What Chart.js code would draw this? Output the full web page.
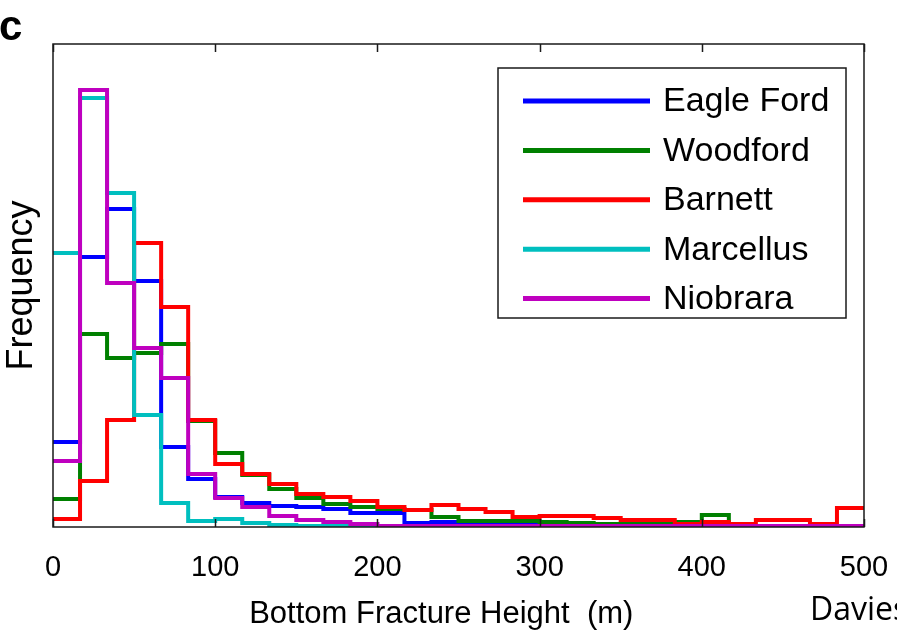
<!DOCTYPE html>
<html>
<head>
<meta charset="utf-8">
<script src="https://cdn.jsdelivr.net/npm/chart.js@4/dist/chart.umd.min.js"></script>
<style>
  html, body { margin: 0; padding: 0; background: #ffffff; }
  #wrap { width: 897px; height: 641px; position: relative; overflow: hidden; }
</style>
</head>
<body>
<div id="wrap"><canvas id="c" width="897" height="641"></canvas></div>
<script>
// Bin edges (m) of the histograms
const binEdges = [0, 16.67, 33.33, 50, 66.67, 83.33, 100, 116.67, 133.33, 150,
  166.67, 183.33, 200, 216.67, 233.33, 250, 266.67, 283.33, 300, 316.67,
  333.33, 350, 366.67, 383.33, 400, 416.67, 433.33, 450, 466.67, 483.33, 500];
const xTicks = [0, 100, 200, 300, 400, 500];
const seriesNames = ["Eagle Ford", "Woodford", "Barnett", "Marcellus", "Niobrara"];

// Frequency per bin (relative)
const eagleFord = [85, 270, 318, 246, 80, 48, 30, 24, 21, 20, 18, 14, 14, 4, 5, 4, 5, 2, 2, 2, 1, 1, 1, 1, 1, 1, 1, 1, 1, 1];
const woodford  = [28, 193, 169, 174, 183, 106, 74, 52, 38, 29, 23, 20, 18, 17, 10, 6, 6, 6, 5, 4, 3, 3, 3, 5, 12, 1, 1, 1, 1, 1];
const barnett   = [8, 46, 107, 284, 220, 107, 63, 53, 43, 33, 30, 26, 20, 17, 22, 18, 15, 10, 11, 11, 9, 7, 7, 3, 5, 3, 7, 7, 3, 19];
const marcellus = [274, 429, 334, 112, 24, 6, 8, 4, 2, 1, 1, 1, 0, 0, 0, 0, 0, 0, 0, 0, 0, 0, 0, 0, 0, 0, 0, 0, 0, 0];
const niobrara  = [66, 437, 244, 179, 149, 53, 29, 20, 11, 7, 5, 3, 1, 1, 1, 1, 1, 1, 1, 1, 1, 1, 1, 1, 1, 1, 1, 1, 1, 1];

const seriesValues = [eagleFord, woodford, barnett, marcellus, niobrara];
const seriesColors = ["#0000ff", "#008000", "#ff0000", "#00bfbf", "#bf00bf"];

function stepPoints(vals) {
  return binEdges.map((x, i) => ({ x: x, y: vals[Math.min(i, vals.length - 1)] }));
}

const datasets = seriesNames.map((name, i) => ({
  label: name,
  data: stepPoints(seriesValues[i]),
  borderColor: seriesColors[i],
  backgroundColor: seriesColors[i],
  borderWidth: 4,
  pointRadius: 0,
  stepped: true,
  fill: false,
  order: seriesNames.length - i,
  borderJoinStyle: 'miter',
  borderCapStyle: 'butt'
}));

const decor = {
  id: 'decor',
  afterDraw(chart) {
    const ctx = chart.ctx;
    const a = chart.chartArea;
    const xs = chart.scales.x;
    ctx.save();
    // frame
    ctx.strokeStyle = '#1a1a1a';
    ctx.lineWidth = 1.5;
    ctx.strokeRect(a.left, a.top, a.right - a.left, a.bottom - a.top);
    // inward ticks
    xTicks.forEach(v => {
      const px = Math.round(xs.getPixelForValue(v)) + 0.5;
      ctx.beginPath();
      ctx.moveTo(px, a.bottom); ctx.lineTo(px, a.bottom - 8);
      ctx.moveTo(px, a.top); ctx.lineTo(px, a.top + 8);
      ctx.stroke();
    });
    // legend box
    const lx = 498, ly = 68, lw = 348, lh = 250;
    ctx.fillStyle = '#ffffff';
    ctx.fillRect(lx, ly, lw, lh);
    ctx.strokeStyle = '#1a1a1a';
    ctx.lineWidth = 1.5;
    ctx.strokeRect(lx, ly, lw, lh);
    ctx.font = '34px "Liberation Sans", Arial, sans-serif';
    ctx.textBaseline = 'middle';
    ctx.textAlign = 'left';
    seriesNames.forEach((name, i) => {
      const y = 101 + i * 49.4;
      ctx.strokeStyle = seriesColors[i];
      ctx.lineWidth = 5;
      ctx.beginPath();
      ctx.moveTo(523, y); ctx.lineTo(650, y);
      ctx.stroke();
      ctx.fillStyle = '#000000';
      ctx.fillText(name, 663, y + 1);
    });
    // panel letter
    ctx.fillStyle = '#000000';
    ctx.font = 'bold 42px "Liberation Sans", Arial, sans-serif';
    ctx.textBaseline = 'alphabetic';
    ctx.fillText('c', -1, 40);
    // citation
    ctx.font = '32px "Open Sans", "Noto Sans", sans-serif';
    ctx.fillText('Davies et al.', 810, 620);
    ctx.restore();
  }
};

new Chart(document.getElementById('c'), {
  type: 'line',
  data: { datasets: datasets },
  plugins: [decor],
  options: {
    responsive: false,
    animation: false,
    events: [],
    layout: { padding: { left: 0, right: 33, top: 44, bottom: 0 } },
    plugins: { legend: { display: false }, tooltip: { enabled: false } },
    scales: {
      x: {
        type: 'linear',
        min: 0, max: 500,
        afterBuildTicks: (s) => { s.ticks = xTicks.map(v => ({ value: v })); },
        afterFit: (s) => { s.height = 114; s.paddingLeft = 0; s.paddingRight = 0; },
        grid: { display: false, drawTicks: false },
        border: { display: false },
        ticks: {
          color: '#000000',
          padding: 24,
          maxRotation: 0,
          font: { family: '"Liberation Sans", Arial, sans-serif', size: 29 }
        },
        title: {
          display: true,
          text: 'Bottom Fracture Height  (m)    ',
          color: '#000000',
          padding: { top: 0, bottom: 8 },
          font: { family: '"Liberation Sans", Arial, sans-serif', size: 31 }
        }
      },
      y: {
        min: 0, max: 483,
        afterFit: (s) => { s.width = 53; },
        grid: { display: false, drawTicks: false },
        border: { display: false },
        ticks: { display: false },
        title: {
          display: true,
          text: 'Frequency',
          color: '#000000',
          padding: { top: 0, bottom: 0 },
          font: { family: '"Liberation Sans", Arial, sans-serif', size: 36 }
        }
      }
    }
  }
});
</script>
</body>
</html>
